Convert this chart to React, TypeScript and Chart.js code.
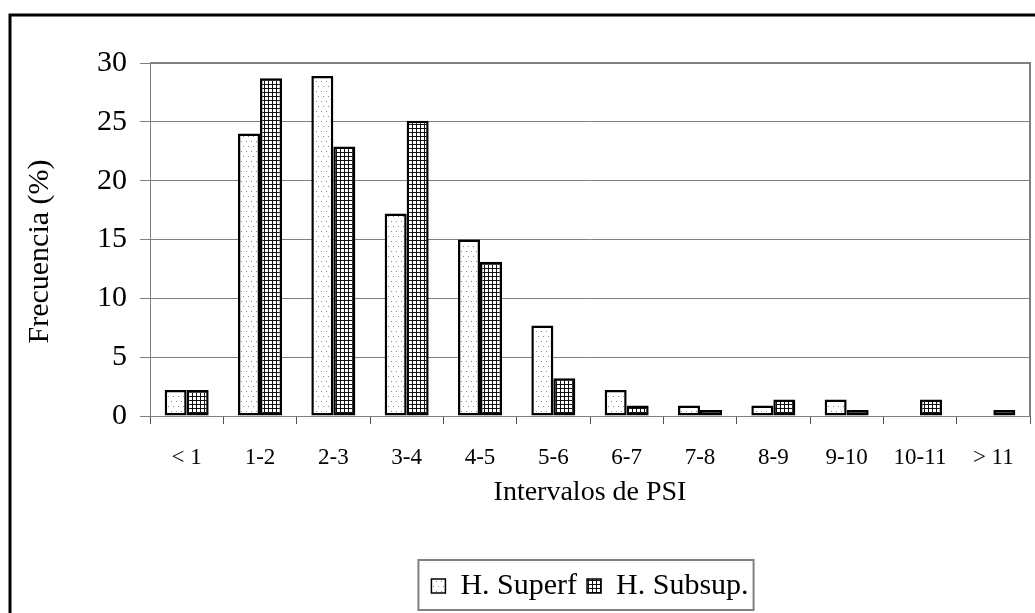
import React, { useEffect, useRef } from 'react';
import { Chart, registerables } from 'chart.js';

Chart.register(...registerables);

const categories = ['< 1', '1-2', '2-3', '3-4', '4-5', '5-6', '6-7', '7-8', '8-9', '9-10', '10-11', '> 11'];
const superfValues = [2.2, 24.0, 28.9, 17.2, 15.0, 7.7, 2.2, 0.9, 0.9, 1.4, 0, 0];
const subsupValues = [2.2, 28.7, 22.9, 25.1, 13.1, 3.2, 0.9, 0.5, 1.4, 0.5, 1.4, 0.5];
const yTickValues = [0, 5, 10, 15, 20, 25, 30];
const seriesNames = ['H. Superf', 'H. Subsup.'];
const xTitle = 'Intervalos de PSI';
const yTitle = 'Frecuencia (%)';

const FONT = '"Liberation Serif", "Times New Roman", serif';

function makeDotPattern(ctx: CanvasRenderingContext2D) {
  const c = document.createElement('canvas');
  c.width = 10;
  c.height = 10;
  const g = c.getContext('2d')!;
  g.fillStyle = '#ffffff';
  g.fillRect(0, 0, 10, 10);
  g.fillStyle = '#8c8c8c';
  g.fillRect(1, 1, 1, 1);
  g.fillRect(6, 1, 1, 1);
  g.fillRect(3, 6, 1, 1);
  g.fillRect(8, 6, 1, 1);
  return ctx.createPattern(c, 'repeat')!;
}

function makeGridPattern(ctx: CanvasRenderingContext2D) {
  const c = document.createElement('canvas');
  c.width = 4;
  c.height = 4;
  const g = c.getContext('2d')!;
  g.fillStyle = '#ffffff';
  g.fillRect(0, 0, 4, 4);
  g.fillStyle = '#111111';
  g.fillRect(0, 0, 4, 1);
  g.fillRect(0, 0, 1, 4);
  return ctx.createPattern(c, 'repeat')!;
}

const framePlugin = {
  id: 'frame',
  beforeDraw(chart: any) {
    const ctx = chart.ctx;
    ctx.save();
    ctx.fillStyle = '#ffffff';
    ctx.fillRect(0, 0, chart.width, chart.height);
    ctx.restore();
  },
  afterDraw(chart: any) {
    const ctx = chart.ctx;
    const a = chart.chartArea;
    ctx.save();
    ctx.strokeStyle = '#808080';
    ctx.lineWidth = 2;
    ctx.beginPath();
    ctx.moveTo(a.left, a.top);
    ctx.lineTo(a.right, a.top);
    ctx.lineTo(a.right, a.bottom);
    ctx.stroke();

    // y axis title
    ctx.save();
    ctx.translate(40, (a.top + a.bottom) / 2 + 12);
    ctx.rotate(-Math.PI / 2);
    ctx.fillStyle = '#000000';
    ctx.font = '30px ' + FONT;
    ctx.textAlign = 'center';
    ctx.textBaseline = 'middle';
    ctx.fillText(yTitle, 0, 0);
    ctx.restore();

    const lg = chart.legend;
    if (lg && lg.legendHitBoxes && lg.legendHitBoxes.length) {
      const hb = lg.legendHitBoxes;
      const l = hb[0].left - 13;
      const last = hb[hb.length - 1];
      const r = last.left + last.width + 5;
      ctx.strokeStyle = '#808080';
      ctx.lineWidth = 2;
      ctx.strokeRect(l, lg.top - 1, r - l, lg.bottom - lg.top);
    }

    ctx.strokeStyle = '#000000';
    ctx.lineWidth = 3;
    ctx.strokeRect(10, 15, chart.width + 30, chart.height + 30);
    ctx.restore();
  },
};

export default function App() {
  const canvasRef = useRef<HTMLCanvasElement | null>(null);

  useEffect(() => {
    const canvas = canvasRef.current;
    if (!canvas) return;
    const ctx = canvas.getContext('2d')!;
    const dots = makeDotPattern(ctx);
    const grid = makeGridPattern(ctx);

    const chart = new Chart(ctx, {
      type: 'bar',
      data: {
        labels: categories,
        datasets: [
          {
            label: seriesNames[0],
            data: superfValues,
            backgroundColor: dots as any,
            borderColor: '#000000',
            borderWidth: 2.5,
            borderSkipped: false,
            categoryPercentage: 0.6,
            barPercentage: 1,
          },
          {
            label: seriesNames[1],
            data: subsupValues,
            backgroundColor: grid as any,
            borderColor: '#000000',
            borderWidth: 2.5,
            borderSkipped: false,
            categoryPercentage: 0.6,
            barPercentage: 1,
          },
        ],
      },
      options: {
        responsive: false,
        animation: false,
        devicePixelRatio: 1,
        layout: { padding: { top: 63, left: 0, right: 5, bottom: 2 } },
        plugins: {
          tooltip: { enabled: false },
          legend: {
            display: true,
            position: 'bottom',
            fullSize: false,
            labels: {
              boxWidth: 14,
              boxHeight: 14,
              padding: 10,
              color: '#000000',
              font: { family: FONT, size: 30 },
              generateLabels: (c: any) =>
                (Chart.defaults.plugins.legend.labels.generateLabels as any)(c).map((l: any) => ({
                  ...l,
                  lineWidth: 1.5,
                })),
            },
          },
        },
        scales: {
          x: {
            type: 'category',
            offset: true,
            grid: {
              display: true,
              offset: true,
              drawOnChartArea: false,
              drawTicks: true,
              tickLength: 8,
              color: '#555555',
              lineWidth: 1,
            },
            border: { display: true, color: '#808080', width: 1 },
            ticks: {
              color: '#000000',
              font: { family: FONT, size: 23 },
              padding: 20,
              maxRotation: 0,
              autoSkip: false,
            },
            title: {
              display: true,
              text: xTitle,
              color: '#000000',
              font: { family: FONT, size: 28 },
              padding: { top: 0, bottom: 52 },
            },
            afterFit: (scale: any) => {
              scale.height = 145;
            },
          },
          y: {
            min: 0,
            max: 30,
            afterBuildTicks: (scale: any) => {
              scale.ticks = yTickValues.map((v) => ({ value: v }));
            },
            grid: {
              color: '#808080',
              lineWidth: 1,
              drawTicks: true,
              tickLength: 10,
            },
            border: { display: true, color: '#808080', width: 1 },
            ticks: {
              color: '#000000',
              font: { family: FONT, size: 30 },
              padding: 13,
            },
            title: { display: false },
            afterFit: (scale: any) => {
              scale.width = 150;
            },
          },
        },
      },
      plugins: [framePlugin],
    });

    return () => {
      chart.destroy();
    };
  }, []);

  return (
    <div style={{ position: 'fixed', left: 0, top: 0, width: 1035, height: 613, background: '#ffffff' }}>
      <canvas ref={canvasRef} width={1035} height={613} style={{ display: 'block' }} />
    </div>
  );
}
